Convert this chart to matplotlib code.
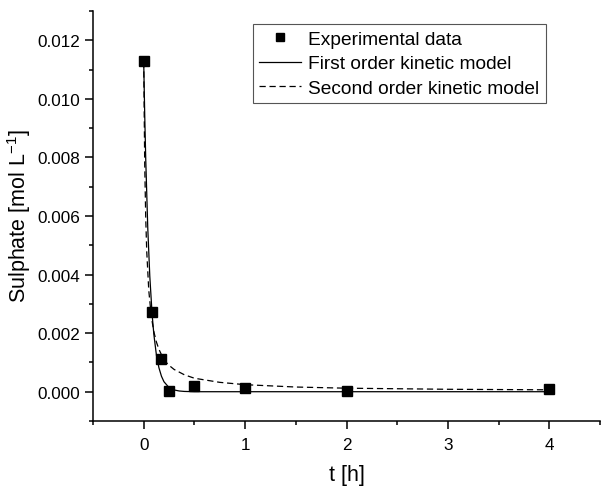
import matplotlib
matplotlib.use("Agg")
import matplotlib.pyplot as plt
from matplotlib.ticker import MultipleLocator, FormatStrFormatter

plt.rcParams['font.family'] = ['Liberation Sans', 'DejaVu Sans']
plt.rcParams['mathtext.fontset'] = 'custom'
plt.rcParams['mathtext.rm'] = 'Liberation Sans'
plt.rcParams['mathtext.it'] = 'Liberation Sans:italic'
plt.rcParams['mathtext.bf'] = 'Liberation Sans:bold'

# Experimental data
t_exp = [0.0, 0.083, 0.167, 0.25, 0.5, 1.0, 2.0, 4.0]
c_exp = [0.01128, 0.00273, 0.00113, 0.00003, 0.00018, 0.00012, 0.00003, 0.00008]

# First order kinetic model
t_first = [0.0, 0.01, 0.02, 0.04, 0.06, 0.083, 0.1, 0.125, 0.15, 0.175, 0.2,
           0.25, 0.3, 0.35, 0.4, 0.5, 1.0, 2.0, 4.0]
c_first = [0.01128, 0.00946, 0.00795, 0.00560, 0.00395, 0.00264, 0.00196,
           0.00126, 0.00082, 0.00053, 0.00034, 0.00014, 0.00006, 0.000025,
           0.00001, 0.0, 0.0, 0.0, 0.0]

# Second order kinetic model
t_second = [0.0, 0.01, 0.02, 0.03, 0.05, 0.075, 0.1, 0.125, 0.15, 0.2, 0.25,
            0.3, 0.4, 0.5, 0.75, 1.0, 1.5, 2.0, 3.0, 4.0]
c_second = [0.01128, 0.00777, 0.00593, 0.00479, 0.00346, 0.00257, 0.00205,
            0.00170, 0.00145, 0.00108, 0.00090, 0.00076, 0.00058, 0.00046,
            0.00032, 0.00024, 0.00016, 0.00012, 0.000083, 0.000065]

fig = plt.figure(figsize=(6.01, 4.89), dpi=100)
ax = fig.add_axes([93/601, 67/489, (600-93)/601, (477-67)/489])

ax.plot(t_first, c_first, color='black', lw=0.9, ls='-', label='First order kinetic model')
ax.plot(t_second, c_second, color='black', lw=0.9, ls=(0, (5, 3)), label='Second order kinetic model')
ax.plot(t_exp, c_exp, ls='none', marker='s', ms=6.5, color='black', label='Experimental data', zorder=5)

ax.set_xlim(-0.5, 4.5)
ax.set_ylim(-0.001, 0.013)
ax.xaxis.set_major_locator(MultipleLocator(1))
ax.xaxis.set_minor_locator(MultipleLocator(0.5))
ax.yaxis.set_major_locator(MultipleLocator(0.002))
ax.yaxis.set_minor_locator(MultipleLocator(0.001))
ax.yaxis.set_major_formatter(FormatStrFormatter('%.3f'))

for s in ['top', 'right']:
    ax.spines[s].set_visible(False)
for s in ['left', 'bottom']:
    ax.spines[s].set_linewidth(1.1)
ax.tick_params(which='major', direction='out', length=5.5, width=1.1, labelsize=12.3, pad=4)
ax.tick_params(axis='x', which='major', pad=6)
ax.tick_params(which='minor', direction='out', length=3, width=1.1)

ax.set_xlabel('t [h]', fontsize=15.5)
ax.set_ylabel('Sulphate [mol L$^{-1}$]', fontsize=15.5)
ax.xaxis.set_label_coords((346.5-93)/507, (422-465)/410)
ax.yaxis.set_label_coords((33-93)/507, (422-216)/410)

handles, labels = ax.get_legend_handles_labels()
order = [2, 0, 1]
leg = ax.legend([handles[i] for i in order], [labels[i] for i in order],
                loc='upper left', bbox_to_anchor=((253-93)/507, (422-25)/410),
                fontsize=13.8, frameon=True, fancybox=False, framealpha=1,
                edgecolor='#555555', handlelength=2.15, handletextpad=0.4,
                borderpad=0.33, labelspacing=0.38, markerscale=0.8, borderaxespad=0)
leg.get_frame().set_linewidth(0.8)

fig.savefig('out.png', dpi=100)
